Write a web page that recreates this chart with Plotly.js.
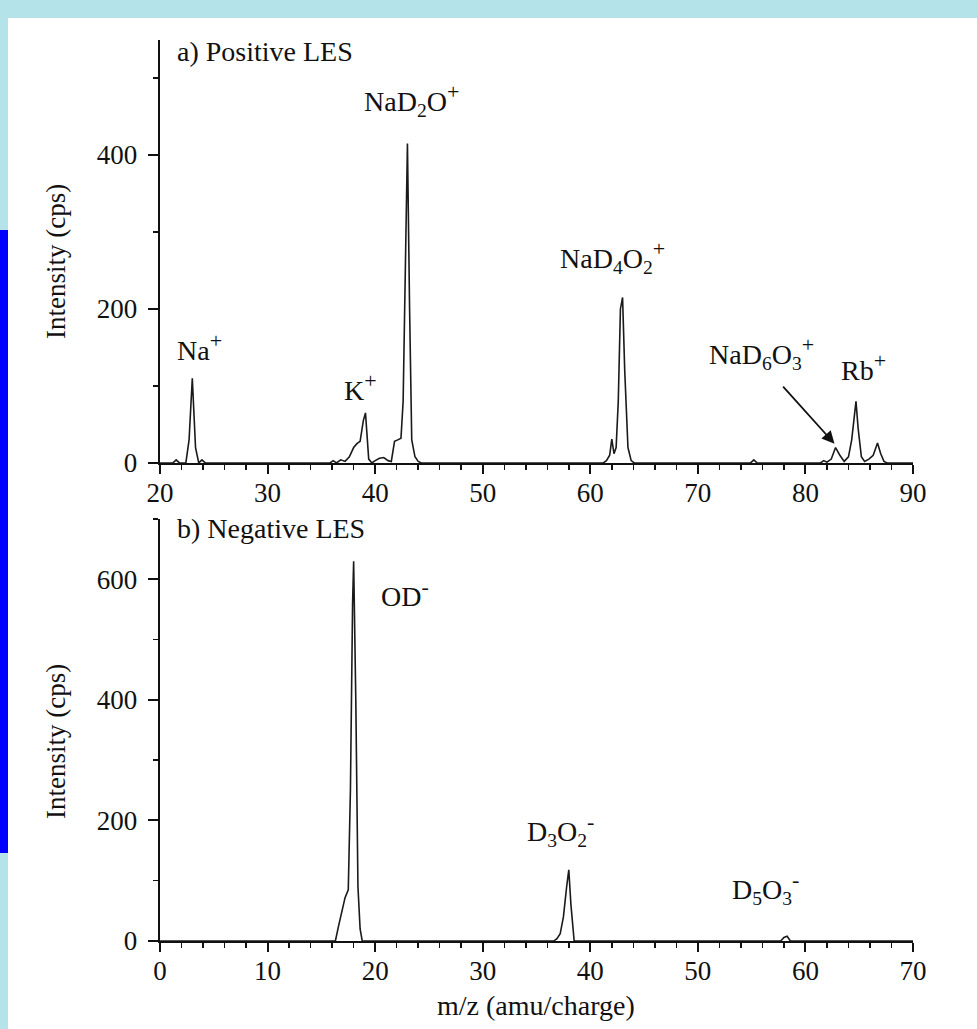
<!DOCTYPE html>
<html>
<head>
<meta charset="utf-8">
<script src="https://cdn.plot.ly/plotly-3.0.1.min.js"></script>
<style>html,body{margin:0;padding:0;background:#b4e3ea;}#chart{width:977px;height:1029px;}</style>
</head>
<body>
<div id="chart"></div>
<script>
// Panel a) Positive LES
const posMz = [20, 21.2, 21.5, 21.8, 22.4, 22.7, 23.0, 23.3, 23.6, 23.9, 24.2, 24.5,
  35.8, 36.1, 36.4, 36.8, 37.2, 37.6, 38.0, 38.3, 38.6, 38.9, 39.1, 39.4, 39.7, 40.0, 40.4, 40.8, 41.2, 41.5, 41.8, 42.1, 42.4, 42.6, 42.8, 43.0, 43.2, 43.4, 43.7, 44.0, 44.3,
  61.2, 61.5, 61.8, 62.0, 62.2, 62.4, 62.6, 62.8, 63.0, 63.2, 63.5, 63.8, 64.1,
  74.9, 75.2, 75.5,
  81.4, 81.7, 82.0, 82.4, 82.8, 83.2, 83.6, 84.0, 84.3, 84.5, 84.7, 84.9, 85.2, 85.5, 85.9, 86.3, 86.7, 87.0, 87.3, 87.6, 90];
const posI = [0, 0, 4, 0, 0, 30, 110, 20, 0, 4, 0, 0,
  0, 3, 0, 4, 2, 8, 20, 25, 28, 55, 65, 5, 0, 3, 6, 7, 3, 2, 28, 30, 32, 80, 250, 415, 200, 30, 8, 2, 0,
  0, 3, 10, 31, 12, 20, 80, 200, 215, 120, 20, 3, 0,
  0, 4, 0,
  0, 3, 1, 5, 20, 10, 2, 8, 30, 55, 80, 45, 8, 2, 5, 10, 26, 12, 2, 0, 0];

// Panel b) Negative LES
const negMz = [0, 16.3, 16.6, 16.9, 17.2, 17.5, 17.7, 17.9, 18.0, 18.2, 18.4, 18.6, 18.8,
  36.6, 36.9, 37.2, 37.5, 37.8, 38.0, 38.2, 38.5,
  57.7, 58.0, 58.3, 58.6, 70];
const negI = [0, 0, 25, 50, 72, 85, 250, 560, 630, 400, 90, 20, 0,
  0, 4, 12, 40, 90, 118, 60, 0,
  0, 6, 8, 0, 0];

// Peak labels
const SP = (c) => "<sup><span style='font-size:22px'>" + c + "</span></sup>";
const posLabels = ["Na" + SP("+"), "K" + SP("+"), "NaD<sub>2</sub>O" + SP("+"), "NaD<sub>4</sub>O<sub>2</sub>" + SP("+"), "NaD<sub>6</sub>O<sub>3</sub>" + SP("+"), "Rb" + SP("+")];
const posLabelX = [23.7, 38.6, 43.4, 62.1, 75.9, 85.4];
const posLabelY = [151, 99, 471, 268, 143, 125];
const negLabels = ["OD" + SP("-"), "D<sub>3</sub>O<sub>2</sub>" + SP("-"), "D<sub>5</sub>O<sub>3</sub>" + SP("-")];
const negLabelX = [22.8, 37.2, 56.3];
const negLabelY = [577, 184, 88];

const FONT = "Liberation Serif, Times New Roman, serif";
const INK = "#111";

const lineStyle = {color: "#1a1a1a", width: 1.6};
const traces = [
  {x: posMz, y: posI, type: "scatter", mode: "lines", line: lineStyle, xaxis: "x", yaxis: "y", hoverinfo: "skip"},
  {x: negMz, y: negI, type: "scatter", mode: "lines", line: lineStyle, xaxis: "x2", yaxis: "y2", hoverinfo: "skip"}
];

function xAxis(range, dom, anchor) {
  return {
    domain: dom, range: range, anchor: anchor,
    showline: true, linecolor: INK, linewidth: 2, showgrid: false, zeroline: false,
    ticks: "outside", ticklen: 9, tickwidth: 2, tickcolor: INK, dtick: 10, tick0: 0,
    minor: {dtick: 2, ticks: "outside", ticklen: 5, tickwidth: 1.5, tickcolor: INK},
    tickfont: {family: FONT, size: 27, color: INK}, ticklabelstandoff: -4,
    fixedrange: true
  };
}
function yAxis(range, dom, anchor, vals) {
  return {
    domain: dom, range: range, anchor: anchor,
    showline: true, linecolor: INK, linewidth: 2.5, showgrid: false, zeroline: false,
    ticks: "outside", ticklen: 10, tickwidth: 2, tickcolor: INK, tickvals: vals,
    minor: {dtick: 100, ticks: "outside", ticklen: 5, tickwidth: 1.5, tickcolor: INK},
    tickfont: {family: FONT, size: 27, color: INK}, ticklabelstandoff: 5,
    fixedrange: true
  };
}

const annotations = [];
posLabels.forEach((t, i) => annotations.push({x: posLabelX[i], y: posLabelY[i], xref: "x", yref: "y", text: t, showarrow: false, font: {family: FONT, size: 28, color: INK}}));
negLabels.forEach((t, i) => annotations.push({x: negLabelX[i], y: negLabelY[i], xref: "x2", yref: "y2", text: t, showarrow: false, font: {family: FONT, size: 28, color: INK}}));
annotations.push({x: 82.7, y: 25, xref: "x", yref: "y", ax: 77.8, ay: 101, axref: "x", ayref: "y", text: "", showarrow: true, arrowhead: 2, arrowsize: 1.4, arrowwidth: 1.8, arrowcolor: INK});
annotations.push({x: 21.4, y: 534, xref: "x", yref: "y", xanchor: "left", yanchor: "middle", text: "a) Positive LES", showarrow: false, font: {family: FONT, size: 28, color: INK}});
annotations.push({x: 1.4, y: 685, xref: "x2", yref: "y2", xanchor: "left", yanchor: "middle", text: "b) Negative LES", showarrow: false, font: {family: FONT, size: 28, color: INK}});
annotations.push({x: 0.0573, y: 0.7464, xref: "paper", yref: "paper", xanchor: "center", yanchor: "middle", text: "Intensity (cps)", textangle: -90, showarrow: false, font: {family: FONT, size: 27, color: INK}});
annotations.push({x: 0.0573, y: 0.2799, xref: "paper", yref: "paper", xanchor: "center", yanchor: "middle", text: "Intensity (cps)", textangle: -90, showarrow: false, font: {family: FONT, size: 27, color: INK}});
annotations.push({x: 0.5486, y: 0.0233, xref: "paper", yref: "paper", xanchor: "center", yanchor: "middle", text: "m/z (amu/charge)", showarrow: false, font: {family: FONT, size: 28, color: INK}});

const layout = {
  width: 977, height: 1029,
  margin: {l: 0, r: 0, t: 0, b: 0},
  paper_bgcolor: "#b4e3ea", plot_bgcolor: "rgba(0,0,0,0)",
  showlegend: false,
  xaxis: xAxis([20, 90], [0.1638, 0.9345], "y"),
  yaxis: yAxis([0, 550], [0.5501, 0.9616], "x", [0, 200, 400]),
  xaxis2: xAxis([0, 70], [0.1638, 0.9345], "y2"),
  yaxis2: yAxis([0, 700], [0.0855, 0.4956], "x2", [0, 200, 400, 600]),
  shapes: [
    {type: "rect", xref: "paper", yref: "paper", x0: 8/977, x1: 1, y0: 0, y1: 1 - 18/1029, fillcolor: "#ffffff", line: {width: 0}, layer: "below"},
    {type: "rect", xref: "paper", yref: "paper", x0: 0, x1: 8/977, y0: 1 - 853/1029, y1: 1 - 230/1029, fillcolor: "#0000ff", line: {width: 0}, layer: "below"}
  ],
  annotations: annotations
};

Plotly.newPlot("chart", traces, layout, {displayModeBar: false, staticPlot: true});
</script>
</body>
</html>
